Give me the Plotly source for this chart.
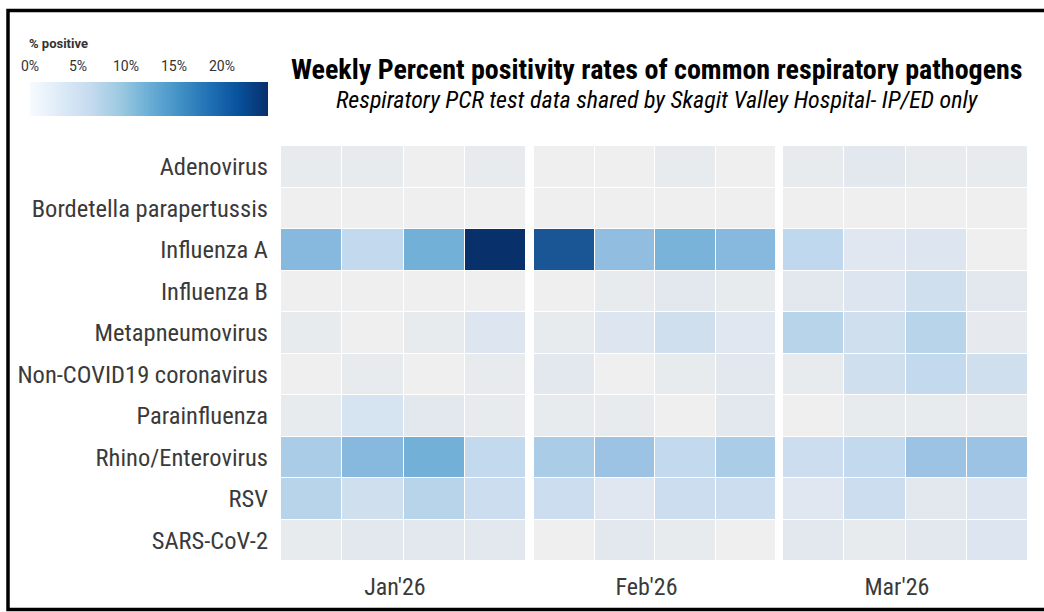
import numpy as np
import plotly.graph_objects as go

# ---------------- data ----------------
pathogens = ["Adenovirus", "Bordetella parapertussis", "Influenza A", "Influenza B",
             "Metapneumovirus", "Non-COVID19 coronavirus", "Parainfluenza",
             "Rhino/Enterovirus", "RSV", "SARS-CoV-2"]
months = ["Jan'26", "Feb'26", "Mar'26"]
weeks = [1, 2, 3, 4]

# % positive, rows = pathogens, cols = weeks of month
jan = [
    [1, 1, 0, 1],
    [0, 0, 0, 0],
    [11, 6.5, 12.5, 24.8],
    [0, 0, 0, 0],
    [1, 0, 1, 3],
    [0, 1, 0, 1],
    [1, 4, 2, 1],
    [9, 11, 12.5, 6.5],
    [8, 5, 8, 5.5],
    [1, 2, 2, 2],
]
feb = [
    [0, 0, 1, 0],
    [0, 0, 0, 0],
    [21, 10.5, 12, 11],
    [0, 1, 2, 1],
    [1, 3, 5, 2.5],
    [2, 0, 1, 2],
    [1, 1, 0, 2],
    [9, 10, 6.5, 9],
    [5.5, 2.5, 5.5, 5.5],
    [0, 2, 1, 0],
]
mar = [
    [1, 2, 1, 1],
    [0, 0, 0, 0],
    [7, 2.5, 3, 0],
    [2, 3, 5, 2],
    [8, 5, 8, 1.5],
    [1, 5, 6.5, 5],
    [0, 1, 1, 1],
    [5.5, 6.5, 10, 10],
    [2.5, 5.5, 2, 3],
    [2, 1, 2, 3],
]
legend_ticks = [0, 5, 10, 15, 20]
zmax = 24.8

# ---------------- styling ----------------
W, H = 1044, 612
def px_x(p): return p / W
def px_y(p): return 1 - p / H

cell_stops = [(0, "#efefef"), (1, "#e8ebee"), (2, "#e3e8ef"), (3, "#dde6f0"),
              (4, "#d6e3f0"), (5, "#cfdfee"), (6.5, "#c3daee"), (8, "#b8d4ea"),
              (9, "#aacce6"), (10, "#9cc3e3"), (11, "#86b9dd"), (12.5, "#73b0d8"),
              (16, "#4a8ec4"), (21, "#1a5695"), (24.8, "#08306b")]
cell_scale = [[v / zmax, c] for v, c in cell_stops]

FONT = "Liberation Sans Narrow, Roboto Condensed, DejaVu Sans Condensed, Roboto, sans-serif"
fig = go.Figure()

panels = [(281, 526), (534, 776), (783, 1028)]
month_tick = 2.36  # month label position (mid-month) within the 4-week panel
for i, (m, vals) in enumerate(zip(months, [jan, feb, mar])):
    xa = "x" if i == 0 else f"x{i+1}"
    fig.add_trace(go.Heatmap(
        z=vals, x=weeks, y=pathogens, colorscale=cell_scale, zmin=0, zmax=zmax,
        showscale=False, xgap=1, ygap=1, xaxis=xa, yaxis="y",
        hovertemplate="%{y}<br>" + m + " week %{x}: %{z}%<extra></extra>"))
    axname = "xaxis" if i == 0 else f"xaxis{i+1}"
    fig.layout[axname] = dict(
        domain=[px_x(panels[i][0]), px_x(panels[i][1])], anchor="y",
        range=[0.5, 4.5], tickvals=[month_tick], ticktext=[m], showgrid=False,
        zeroline=False, ticks="", ticklabelstandoff=9, automargin=False,
        tickfont=dict(family=FONT, size=24, color="#3a3a3a"))

# gradient legend drawn on its own axis
legend_scale = np.linspace(0, zmax, 300)
fig.add_trace(go.Heatmap(
    x=legend_scale, y=[0], z=[legend_scale], colorscale="Blues", zmin=0, zmax=zmax,
    showscale=False, xaxis="x4", yaxis="y2", hoverinfo="skip"))

fig.update_layout(
    width=W, height=H, margin=dict(l=0, r=0, t=0, b=0, autoexpand=False),
    paper_bgcolor="white", plot_bgcolor="white",
    yaxis=dict(domain=[px_y(561), px_y(146)], autorange="reversed",
               categoryorder="array", categoryarray=pathogens, automargin=False,
               showgrid=False, zeroline=False, ticks="", ticklabelstandoff=12,
               tickfont=dict(family=FONT, size=24.5, color="#3a3a3a")),
    xaxis4=dict(domain=[px_x(30), px_x(268)], anchor="y2", side="top",
                range=[0, zmax], tickvals=legend_ticks, automargin=False,
                ticktext=[f"{t}%" for t in legend_ticks],
                showgrid=False, zeroline=False, ticks="", ticklabelstandoff=7,
                tickfont=dict(family="Roboto, sans-serif", size=14, color="#333333")),
    yaxis2=dict(domain=[px_y(116), px_y(82)], anchor="x4", visible=False,
                range=[-0.5, 0.5], automargin=False),
    showlegend=False,
)

fig.add_annotation(x=px_x(27), y=px_y(44), xref="paper", yref="paper",
                   xanchor="left", yanchor="middle", showarrow=False,
                   text="<b>% positive</b>",
                   font=dict(family="Roboto, sans-serif", size=13, color="#333333"))
fig.add_annotation(x=px_x(657), y=px_y(69), xref="paper", yref="paper",
                   xanchor="center", yanchor="middle", showarrow=False,
                   text="<b>Weekly Percent positivity rates of common respiratory pathogens</b>",
                   font=dict(family=FONT, size=28, color="black"))
fig.add_annotation(x=px_x(657), y=px_y(100), xref="paper", yref="paper",
                   xanchor="center", yanchor="middle", showarrow=False,
                   text="<i>Respiratory PCR test data shared by Skagit Valley Hospital- IP/ED only</i>",
                   font=dict(family=FONT, size=24, color="black"))

# outer border
fig.add_shape(type="rect", xref="paper", yref="paper",
              x0=px_x(8), x1=px_x(1060), y0=px_y(609.5), y1=px_y(10.5),
              line=dict(color="black", width=3.5), fillcolor="rgba(0,0,0,0)")

fig.write_html("out.html", config={"displayModeBar": False},
               post_script="document.body.style.margin='0';document.body.style.overflow='hidden';")
